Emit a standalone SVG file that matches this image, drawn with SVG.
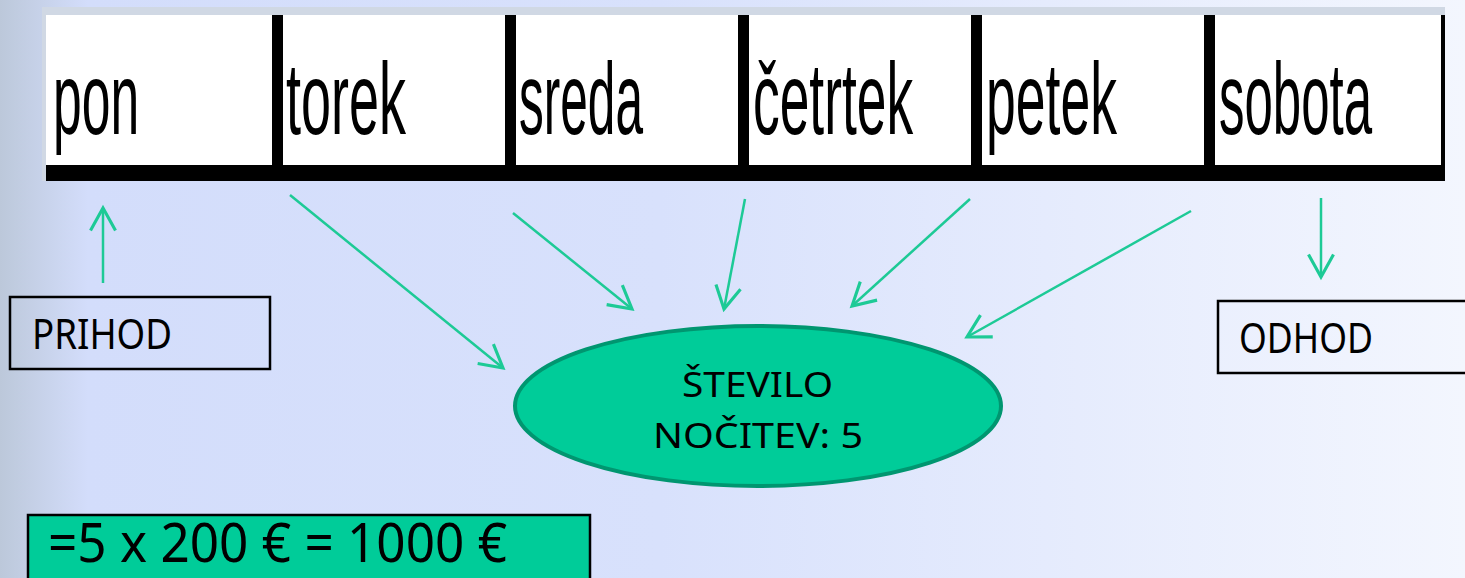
<svg xmlns="http://www.w3.org/2000/svg" width="1465" height="578" viewBox="0 0 1465 578">
<defs>
<linearGradient id="bg" x1="0" y1="0" x2="1" y2="0">
<stop offset="0" stop-color="#bcc8da"/>
<stop offset="0.06" stop-color="#d3ddfb"/>
<stop offset="0.45" stop-color="#d8e1fc"/>
<stop offset="1" stop-color="#f3f6fe"/>
</linearGradient>
<marker id="ah" markerUnits="userSpaceOnUse" markerWidth="30" markerHeight="30" viewBox="-20 -12 24 24" refX="0" refY="0" orient="auto">
<path d="M-18,-10 L0,0 L-18,10" fill="none" stroke="#1dca96" stroke-width="2.5"/>
</marker>
<style>
.day{font-family:"Liberation Sans",Arial,sans-serif;font-size:102px;fill:#000}
.lbl{font-family:"Noto Sans","Open Sans",sans-serif;fill:#000}
.conn{stroke:#1dca96;stroke-width:2.5;fill:none;marker-end:url(#ah)}
.box{fill:none;stroke:#000;stroke-width:2.5}
</style>
</defs>
<rect width="1465" height="578" fill="url(#bg)"/>
<g id="table">
<rect x="42" y="7" width="1403" height="174" fill="#d0d8e4"/>
<rect x="46" y="15" width="1395" height="150" fill="#fff"/>
<rect x="46" y="165" width="1399" height="16" fill="#000"/>
<rect x="1441" y="15" width="4" height="166" fill="#000"/>
<rect x="272" y="15" width="11" height="150" fill="#000"/>
<rect x="505" y="15" width="11" height="150" fill="#000"/>
<rect x="738" y="15" width="11" height="150" fill="#000"/>
<rect x="971" y="15" width="11" height="150" fill="#000"/>
<rect x="1204" y="15" width="11" height="150" fill="#000"/>
</g>
<g id="pon"><text class="day" transform="translate(53,134) scale(0.506,1)">pon</text></g>
<g id="torek"><text class="day" transform="translate(286,134) scale(0.529,1)">torek</text></g>
<g id="sreda"><text class="day" transform="translate(519,134) scale(0.486,1)">sreda</text></g>
<g id="cetrtek"><text class="day" transform="translate(753,134) scale(0.523,1)">četrtek</text></g>
<g id="petek"><text class="day" transform="translate(986,134) scale(0.525,1)">petek</text></g>
<g id="sobota"><text class="day" transform="translate(1219,134) scale(0.5,1)">sobota</text></g>
<g id="connectors">
<line class="conn" x1="103" y1="283" x2="103" y2="208"/>
<line class="conn" x1="290" y1="195" x2="503" y2="368"/>
<line class="conn" x1="513" y1="213" x2="632" y2="309"/>
<line class="conn" x1="745" y1="199" x2="724" y2="309"/>
<line class="conn" x1="970" y1="199" x2="852" y2="306"/>
<line class="conn" x1="1191" y1="211" x2="967" y2="337"/>
<line class="conn" x1="1321" y1="198" x2="1321" y2="277"/>
</g>
<g id="prihod">
<rect class="box" x="10" y="297" width="260" height="72"/>
<text class="lbl" x="32" y="349" font-size="42" textLength="140" lengthAdjust="spacingAndGlyphs">PRIHOD</text>
</g>
<g id="odhod">
<rect class="box" x="1218" y="301" width="260" height="72"/>
<text class="lbl" x="1239" y="353" font-size="42" textLength="134" lengthAdjust="spacingAndGlyphs">ODHOD</text>
</g>
<g id="stevilo">
<ellipse cx="758" cy="406" rx="243" ry="80" fill="#00cc99" stroke="#009670" stroke-width="4"/>
<text class="lbl" x="682" y="397" font-size="35" textLength="151" lengthAdjust="spacingAndGlyphs">ŠTEVILO</text>
<text class="lbl" x="653" y="448" font-size="35" textLength="210" lengthAdjust="spacingAndGlyphs">NOČITEV: 5</text>
</g>
<g id="formula">
<rect x="28" y="515" width="562" height="75" fill="#00cc99" stroke="#000" stroke-width="2.5"/>
<text class="lbl" x="48" y="562" font-size="54" textLength="459" lengthAdjust="spacingAndGlyphs">=5 x 200 € = 1000 €</text>
</g>
</svg>
